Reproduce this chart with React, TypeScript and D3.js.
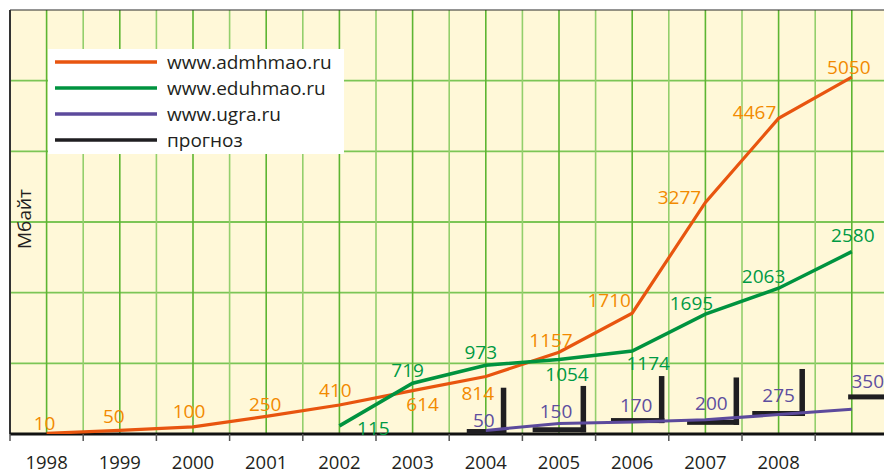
import React from "react";
import * as d3 from "d3";

// ---- data ----
const years = [1998, 1999, 2000, 2001, 2002, 2003, 2004, 2005, 2006, 2007, 2008, 2009];
const yearTickLabels = ["1998", "1999", "2000", "2001", "2002", "2003", "2004", "2005", "2006", "2007", "2008"];
const admhmao: (number | null)[] = [10, 50, 100, 250, 410, 614, 814, 1157, 1710, 3277, 4467, 5050];
const eduhmao: (number | null)[] = [null, null, null, null, 115, 719, 973, 1054, 1174, 1695, 2063, 2580];
const ugra: (number | null)[] = [null, null, null, null, null, null, 50, 150, 170, 200, 275, 350];
// forecast marks (прогноз): level of the horizontal bar, peak of the vertical bar, span in years
const forecastLevel = [35, 60, 190, 165, 290, 525];
const forecastPeak: (number | null)[] = [655, 680, 820, 800, 920, null];
const forecastFrom = [2004.24, 2005.14, 2006.21, 2007.25, 2008.14, 2009.45];
const forecastTo = [2004.78, 2005.87, 2006.94, 2007.96, 2008.86, 2010.2];
const seriesNames = ["www.admhmao.ru", "www.eduhmao.ru", "www.ugra.ru", "прогноз"];
const yAxisTitle = "Мбайт";
const yGridValues = [1000, 2000, 3000, 4000, 5000];

// ---- layout (label offsets from the point, px) ----
const admOff: [number, number][] = [[-2, -3], [-6, -7.5], [-4, -9], [-1, -5], [-4, -8], [10, 20], [-8, 23.5], [-8, -5], [-23, -6], [-26, 2], [-24, 1], [-3, -3]];
const eduOff: [number, number][] = [[0, 0], [0, 0], [0, 0], [0, 0], [34, 9], [-5, -6], [-5, -6], [8, 21.5], [16, 19], [-14, -4], [-15, -5], [1, -10]];
const ugraOff: [number, number][] = [[0, 0], [0, 0], [0, 0], [0, 0], [0, 0], [0, 0], [-2, -3.5], [-3, -5], [4, -10], [6, -10], [0, -13], [16, -21]];

const W = 884, H = 475;
const C = {
  bg: "#FFF8D8",
  gridDark: "#5DB532",
  gridLight: "#93CF6C",
  orange: "#E8550F",
  orangeText: "#F28A00",
  green: "#00933F",
  greenText: "#009A44",
  purple: "#5C4A9C",
  purpleText: "#5E4E9F",
  black: "#1F1E21",
  text: "#231F20",
};
const FONT = "'Open Sans', 'Noto Sans', sans-serif";

export default function App() {
  const x = d3.scaleLinear().domain([1998, 2010]).range([10, 888.4]);
  const y = d3.scaleLinear().domain([0, 6000]).range([434, 10]);
  const px = (i: number) => x(years[i] + 0.5);

  const mkLine = (vals: (number | null)[]) =>
    d3
      .line<number>()
      .defined((i) => vals[i] != null)
      .x((i) => px(i))
      .y((i) => y(vals[i] as number))(d3.range(years.length)) || "";

  const vGrid = d3.range(1998.5, 2010.01, 0.5);
  const ticks = d3.range(1998, 2011, 1);

  const labels = (vals: (number | null)[], off: [number, number][], color: string) =>
    vals.map((v, i) =>
      v == null ? null : (
        <text
          key={i}
          x={px(i) + off[i][0]}
          y={y(v) + off[i][1]}
          textAnchor="middle"
          fill={color}
          fontSize={19}
          fontFamily={FONT}
        >
          {v}
        </text>
      )
    );

  const legendColors = [C.orange, C.green, C.purple, C.black];
  const legendRows = [62, 88, 114, 140];

  return (
    <svg width={W} height={H} style={{ position: "absolute", left: 0, top: 0, background: "#fff" }}>
      <defs>
        <clipPath id="plot">
          <rect x={10} y={10} width={W - 10} height={424} />
        </clipPath>
      </defs>
      <rect x={10} y={10} width={W - 10} height={424} fill={C.bg} />
      {/* grid */}
      <g>
        {yGridValues.map((v) => (
          <line key={v} x1={10} x2={W} y1={y(v)} y2={y(v)} stroke="#7CC556" strokeWidth={1.8} />
        ))}
        {vGrid.map((g, i) => (
          <line
            key={g}
            x1={x(g)}
            x2={x(g)}
            y1={10}
            y2={434}
            stroke={i % 2 === 0 ? C.gridDark : C.gridLight}
            strokeWidth={1.6}
          />
        ))}
      </g>
      {/* borders */}
      <line x1={10} x2={W} y1={10} y2={10} stroke="#2a2a2a" strokeWidth={1.2} />
      <line x1={10} x2={10} y1={10} y2={434} stroke="#333" strokeWidth={2} />
      {/* legend */}
      <rect x={48} y={49} width={296} height={105} fill="#fff" />
      {seriesNames.map((n, i) => (
        <g key={n}>
          <line x1={55} x2={157} y1={legendRows[i]} y2={legendRows[i]} stroke={legendColors[i]} strokeWidth={3.5} />
          <text x={167} y={legendRows[i] + 7} fontSize={19} fontFamily={FONT} fill={C.text}>
            {n}
          </text>
        </g>
      ))}
      {/* axis */}
      <line x1={10} x2={W} y1={434} y2={434} stroke="#111" strokeWidth={3} />
      {ticks.map((t) => (
        <line key={t} x1={x(t)} x2={x(t)} y1={434} y2={441} stroke="#555" strokeWidth={1.5} />
      ))}
      {yearTickLabels.map((t, i) => (
        <text key={t} x={px(i)} y={469} textAnchor="middle" fontSize={18.5} fontFamily={FONT} fill={C.text}>
          {t}
        </text>
      ))}
      <text
        transform={`translate(31,219) rotate(-90)`}
        textAnchor="middle"
        fontSize={19}
        fontFamily={FONT}
        fill={C.text}
      >
        {yAxisTitle}
      </text>
      {/* series */}
      <g clipPath="url(#plot)">
        <path d={mkLine(admhmao)} fill="none" stroke={C.orange} strokeWidth={3.2} strokeLinejoin="miter" />
        <path d={mkLine(eduhmao)} fill="none" stroke={C.green} strokeWidth={3.5} strokeLinejoin="miter" />
        {forecastLevel.map((lv, i) => {
          const x0 = x(forecastFrom[i]);
          const x1 = x(forecastTo[i]);
          const yl = y(lv);
          const pk = forecastPeak[i];
          return (
            <g key={i} fill={C.black}>
              <rect x={x0} y={yl - 2.5} width={x1 - x0} height={5} />
              {pk != null && <rect x={x1 - 5.5} y={y(pk)} width={5.5} height={yl + 2.5 - y(pk)} />}
            </g>
          );
        })}
        <path d={mkLine(ugra)} fill="none" stroke={C.purple} strokeWidth={3} strokeLinejoin="miter" />
      </g>
      {/* value labels */}
      <g>{labels(admhmao, admOff, C.orangeText)}</g>
      <g>{labels(eduhmao, eduOff, C.greenText)}</g>
      <g>{labels(ugra, ugraOff, C.purpleText)}</g>
    </svg>
  );
}
